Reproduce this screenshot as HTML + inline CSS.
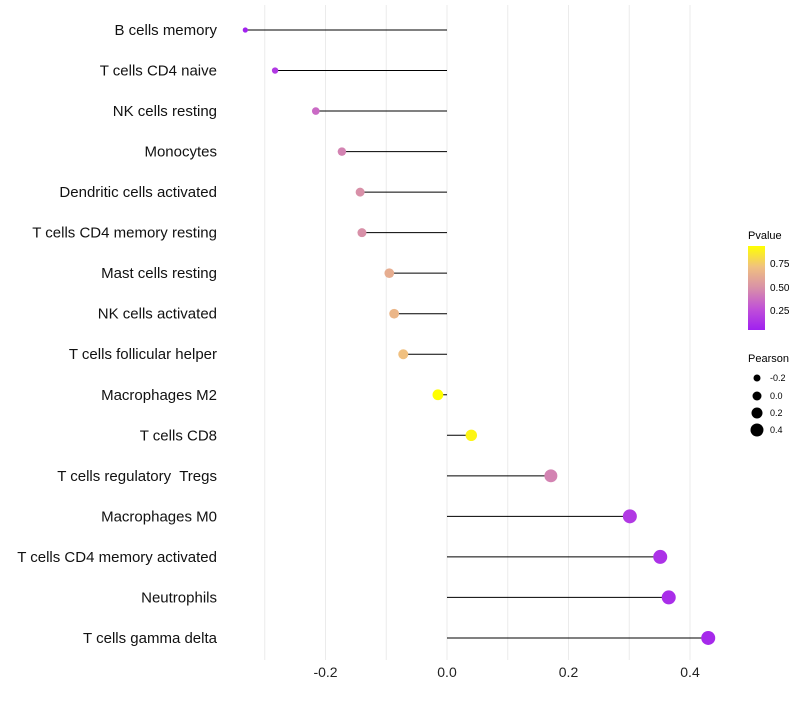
<!DOCTYPE html>
<html><head><meta charset="utf-8"><style>
body{margin:0;background:#fff;font-family:"Liberation Sans",sans-serif}
text{white-space:pre}
</style></head><body>
<svg id="chart" width="800" height="700" xmlns="http://www.w3.org/2000/svg" style="white-space:pre">
<defs><linearGradient id="pg" x1="0" y1="1" x2="0" y2="0">
<stop offset="0" stop-color="#a020f0"/><stop offset="0.25" stop-color="#c050d8"/><stop offset="0.5" stop-color="#d890a8"/><stop offset="0.75" stop-color="#f0c080"/><stop offset="1" stop-color="#ffff00"/></linearGradient></defs>
<g id="grid"></g><g id="marks"></g><g id="labels"></g>
<g font-size="10" fill="#000">
<text x="748" y="239" font-size="11">Pvalue</text>
<rect x="748" y="246" width="17" height="84" fill="url(#pg)"/>
<text x="770" y="267">0.75</text><text x="770" y="291">0.50</text><text x="770" y="314">0.25</text>
</g>
<g font-size="9" fill="#000">
<text x="748" y="362" font-size="11">Pearson</text>
<circle cx="757" cy="378" r="3.5"/><text x="770" y="381">-0.2</text>
<circle cx="757" cy="396" r="4.5"/><text x="770" y="399">0.0</text>
<circle cx="757" cy="413" r="5.5"/><text x="770" y="416">0.2</text>
<circle cx="757" cy="430" r="6.5"/><text x="770" y="433">0.4</text>
</g>
</svg>
<script>
const categories=["B cells memory","T cells CD4 naive","NK cells resting","Monocytes","Dendritic cells activated","T cells CD4 memory resting","Mast cells resting","NK cells activated","T cells follicular helper","Macrophages M2","T cells CD8","T cells regulatory  Tregs","Macrophages M0","T cells CD4 memory activated","Neutrophils","T cells gamma delta"];
const pearson=[-0.332,-0.283,-0.216,-0.173,-0.143,-0.140,-0.095,-0.087,-0.072,-0.015,0.040,0.171,0.301,0.351,0.365,0.430];
const pvalue=[0.05,0.15,0.35,0.45,0.5,0.5,0.65,0.7,0.75,0.93,0.9,0.45,0.15,0.12,0.1,0.08];
const ticks=[-0.2,0.0,0.2,0.4];
const tickLabels=["-0.2","0.0","0.2","0.4"];
const gridVals=[-0.3,-0.2,-0.1,0,0.1,0.2,0.3,0.4];
const NS="http://www.w3.org/2000/svg";
const x=v=>447+v*607.5;
const y=i=>30+i*40.53;
const stops=[[0.04,[160,32,240]],[0.25,[192,80,216]],[0.5,[216,144,168]],[0.75,[240,192,128]],[0.93,[255,255,0]]];
function col(p){if(p<=stops[0][0])return `rgb(${stops[0][1]})`;for(let k=1;k<stops.length;k++){if(p<=stops[k][0]){const a=stops[k-1],b=stops[k],t=(p-a[0])/(b[0]-a[0]);return `rgb(${a[1].map((c,j)=>Math.round(c+(b[1][j]-c)*t))})`}}return "rgb(255,255,0)";}
function mk(tag,at,parent){const e=document.createElementNS(NS,tag);for(const k in at)e.setAttribute(k,at[k]);parent.appendChild(e);return e;}
const grid=document.getElementById('grid'),marks=document.getElementById('marks'),labels=document.getElementById('labels');
gridVals.forEach(v=>{const l=mk('line',{x1:x(v),x2:x(v),y1:5,y2:660,stroke:'#ebebeb','stroke-width':1},grid);

});
ticks.forEach((v,i)=>{const t=mk('text',{x:x(v),y:677,'text-anchor':'middle','font-size':14,fill:'#222'},labels);t.textContent=tickLabels[i];

});
categories.forEach((c,i)=>{
const t=mk('text',{x:217,y:y(i)+5,'text-anchor':'end','font-size':15,fill:'#111'},labels);t.textContent=c;


const l=mk('line',{x1:x(0),x2:x(pearson[i]),y1:y(i),y2:y(i),stroke:'#000','stroke-width':1},marks);


const r=Math.min(7,Math.sqrt(Math.max(2.5,30+70*pearson[i])));
const d=mk('circle',{cx:x(pearson[i]),cy:y(i),r:r,fill:col(pvalue[i])},marks);


});
</script>
</body></html>
